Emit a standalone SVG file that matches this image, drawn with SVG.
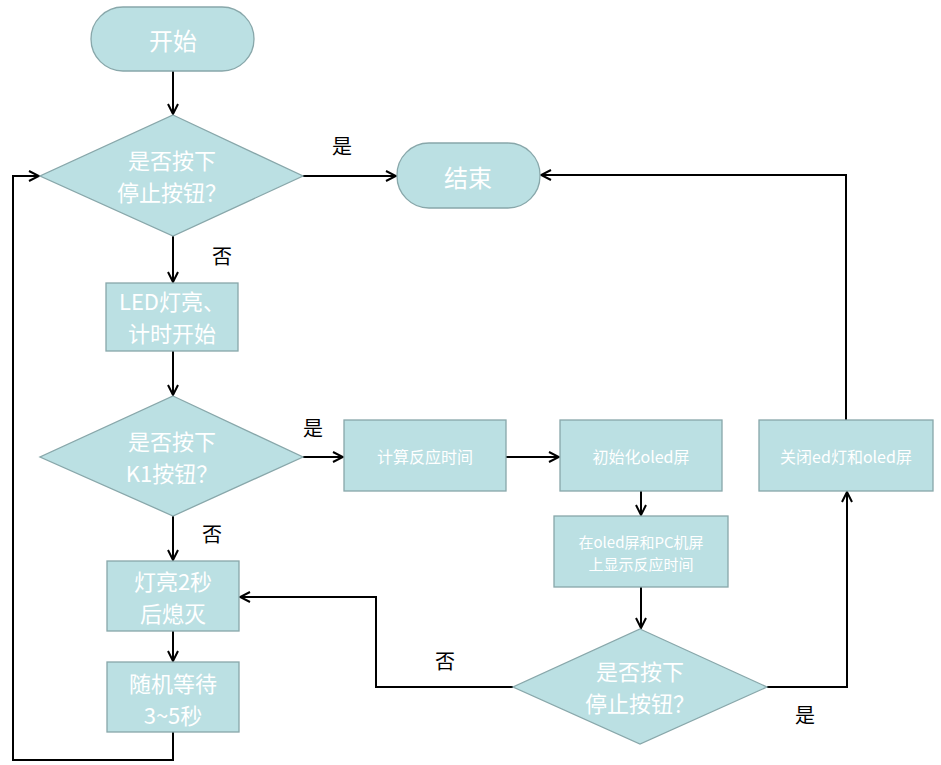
<svg xmlns="http://www.w3.org/2000/svg" width="941" height="765" viewBox="0 0 941 765">
<style>
.n{fill:#BBE0E3;stroke:#88A7AA;stroke-width:1.3}
.t{fill:#ffffff;font-family:"Noto Sans CJK SC","Liberation Sans",sans-serif;text-anchor:middle;dominant-baseline:central}
.l{fill:#000;font-family:"Noto Sans CJK SC",sans-serif;font-size:20px;text-anchor:middle;dominant-baseline:central}
.c{fill:none;stroke:#000;stroke-width:2}
</style>
<defs>
<marker id="a" viewBox="0 0 12 12" refX="11" refY="6" markerWidth="12" markerHeight="12" markerUnits="userSpaceOnUse" orient="auto">
<path d="M1,1 L11,6 L1,11" fill="none" stroke="#000" stroke-width="2"/>
</marker>
</defs>
<g id="connectors">
<path class="c" d="M173,71 V114" marker-end="url(#a)"/>
<path class="c" d="M303,176 H396" marker-end="url(#a)"/>
<path class="c" d="M173,236 V282" marker-end="url(#a)"/>
<path class="c" d="M173,351 V395" marker-end="url(#a)"/>
<path class="c" d="M303,457 H343" marker-end="url(#a)"/>
<path class="c" d="M506,457 H559" marker-end="url(#a)"/>
<path class="c" d="M641,491 V515" marker-end="url(#a)"/>
<path class="c" d="M641,587 V628" marker-end="url(#a)"/>
<path class="c" d="M767,687 H847 V492" marker-end="url(#a)"/>
<path class="c" d="M846,420 V175 H541" marker-end="url(#a)"/>
<path class="c" d="M513,687 H376 V597 H240" marker-end="url(#a)"/>
<path class="c" d="M173,516 V560" marker-end="url(#a)"/>
<path class="c" d="M173,631 V661" marker-end="url(#a)"/>
<path class="c" d="M173,732 V760 H13 V176 H39" marker-end="url(#a)"/>
<text class="l" x="342" y="145">是</text>
<text class="l" x="222" y="255">否</text>
<text class="l" x="313" y="427">是</text>
<text class="l" x="212" y="533">否</text>
<text class="l" x="805" y="714">是</text>
<text class="l" x="445" y="660">否</text>
</g>
<g id="start">
<rect class="n" x="91" y="7" width="163" height="64" rx="32"/>
<text class="t" x="173" y="39" font-size="24">开始</text>
</g>
<g id="decision1">
<polygon class="n" points="173,115 303,176 173,236 40,176"/>
<text class="t" x="172" y="159" font-size="22">是否按下</text>
<text class="t" x="172" y="191" font-size="22">停止按钮？</text>
</g>
<g id="end">
<rect class="n" x="397" y="143" width="143" height="65" rx="32"/>
<text class="t" x="468" y="176" font-size="24">结束</text>
</g>
<g id="led">
<rect class="n" x="106" y="283" width="132" height="68"/>
<text class="t" x="172" y="300" font-size="22">LED灯亮、</text>
<text class="t" x="172" y="332" font-size="22">计时开始</text>
</g>
<g id="decision2">
<polygon class="n" points="173,396 303,457 173,516 40,457"/>
<text class="t" x="172" y="440" font-size="22">是否按下</text>
<text class="t" x="172" y="472" font-size="22">K1按钮？</text>
</g>
<g id="calc">
<rect class="n" x="344" y="420" width="162" height="71"/>
<text class="t" x="425" y="456" font-size="16">计算反应时间</text>
</g>
<g id="init">
<rect class="n" x="560" y="420" width="162" height="71"/>
<text class="t" x="641" y="456" font-size="16">初始化oled屏</text>
</g>
<g id="show">
<rect class="n" x="554" y="516" width="174" height="71"/>
<text class="t" x="641" y="541" font-size="15">在oled屏和PC机屏</text>
<text class="t" x="641" y="563" font-size="15">上显示反应时间</text>
</g>
<g id="decision3">
<polygon class="n" points="640,629 767,687 640,744 513,687"/>
<text class="t" x="640" y="670" font-size="22">是否按下</text>
<text class="t" x="640" y="702" font-size="22">停止按钮？</text>
</g>
<g id="close">
<rect class="n" x="759" y="420" width="174" height="71"/>
<text class="t" x="846" y="456" font-size="16">关闭ed灯和oled屏</text>
</g>
<g id="light">
<rect class="n" x="107" y="561" width="132" height="70"/>
<text class="t" x="173" y="580" font-size="22">灯亮2秒</text>
<text class="t" x="173" y="612" font-size="22">后熄灭</text>
</g>
<g id="wait">
<rect class="n" x="107" y="662" width="132" height="70"/>
<text class="t" x="173" y="682" font-size="22">随机等待</text>
<text class="t" x="173" y="714" font-size="22">3~5秒</text>
</g>
</svg>
